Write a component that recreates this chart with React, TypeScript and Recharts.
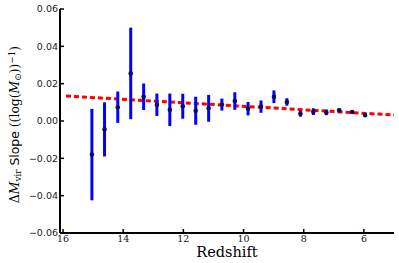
import React from 'react';
import { ComposedChart, Scatter, Line, XAxis, YAxis, ErrorBar, Label } from 'recharts';

const redshift = [15.04, 14.62, 14.18, 13.75, 13.32, 12.88, 12.45, 12.02, 11.59, 11.16, 10.72, 10.29, 9.85, 9.42, 8.99, 8.56, 8.11, 7.68, 7.25, 6.82, 6.39, 5.96];
const slope = [-0.018, -0.0045, 0.0074, 0.0255, 0.013, 0.0087, 0.006, 0.0079, 0.0055, 0.0068, 0.0088, 0.0107, 0.0066, 0.0077, 0.013, 0.0102, 0.0039, 0.005, 0.0046, 0.0057, 0.0048, 0.0032];
const slopeErr = [0.0245, 0.0145, 0.0084, 0.0245, 0.0071, 0.006, 0.0087, 0.0067, 0.0075, 0.0072, 0.0032, 0.0047, 0.0036, 0.0033, 0.0034, 0.002, 0.0016, 0.0018, 0.0015, 0.0011, 0.0008, 0.0012];
const fitRedshift = [15.9, 5.0];
const fitSlope = [0.0134, 0.0032];
const xTicks = [16, 14, 12, 10, 8, 6];
const yTicks = [-0.06, -0.04, -0.02, 0, 0.02, 0.04, 0.06];
const xDomain = [5, 16.1];
const yDomain = [-0.06, 0.06];

const points = redshift.map((z, i) => ({ z, v: slope[i], e: slopeErr[i] }));
const fitData = fitRedshift.map((z, i) => ({ z, v: fitSlope[i] }));

const fmtY = (v: number) => {
  const s = Math.abs(v).toFixed(2);
  return v < -1e-9 ? '\u2212' + s : s;
};

const Dot = (p: any) => <circle cx={p.cx} cy={p.cy} r={2.3} fill="#0c0c5a" />;

const YLabel = () => (
  <text transform="translate(19,124.5) rotate(-90)" textAnchor="middle" fontSize={12.4} fill="#000" fontFamily="DejaVu Serif">
    <tspan>Δ</tspan>
    <tspan fontStyle="italic">M</tspan>
    <tspan fontSize={8.8} dy={2.2}>vir</tspan>
    <tspan dy={-2.2} fontFamily="DejaVu Sans">{' Slope '}</tspan>
    <tspan>((log(</tspan>
    <tspan fontStyle="italic">M</tspan>
    <tspan fontSize={8.8} dy={2.2}>⊙</tspan>
    <tspan dy={-2.2}>))</tspan>
    <tspan fontSize={8.8} dy={-4.5}>−1</tspan>
    <tspan dy={4.5}>)</tspan>
  </text>
);

const XLabel = (p: any) => {
  const vb = p.viewBox || { x: 60, y: 233, width: 334, height: 30 };
  return (
    <text x={vb.x + vb.width / 2} y={vb.y + 23.5} textAnchor="middle" fontSize={14.5} fontFamily="DejaVu Serif" fill="#000">
      Redshift
    </text>
  );
};

export default function App() {
  return (
    <div style={{ position: 'absolute', left: 0, top: 0, background: '#fff' }}>
      <ComposedChart width={399} height={263} margin={{ top: 9, right: 5, bottom: 0, left: 0 }}>
        <XAxis
          xAxisId="b"
          type="number"
          dataKey="z"
          domain={xDomain}
          reversed
          allowDataOverflow
          ticks={xTicks}
          interval={0}
          height={30}
          tickSize={-4}
          tickMargin={6}
          axisLine={{ stroke: '#000', strokeWidth: 2 }}
          tickLine={{ stroke: '#000', strokeWidth: 1.5 }}
          tick={{ fontFamily: 'DejaVu Serif', fontSize: 9.5, fill: '#111' }}
        >
          <Label content={<XLabel />} />
        </XAxis>
        <XAxis
          xAxisId="t"
          orientation="top"
          type="number"
          dataKey="z"
          domain={xDomain}
          reversed
          allowDataOverflow
          ticks={xTicks}
          interval={0}
          height={0}
          tickSize={-4}
          tick={false}
          axisLine={{ stroke: '#000', strokeWidth: 2 }}
          tickLine={{ stroke: '#000', strokeWidth: 1.5 }}
        />
        <YAxis
          yAxisId="l"
          type="number"
          domain={yDomain}
          allowDataOverflow
          ticks={yTicks}
          interval={0}
          width={60}
          tickSize={-4}
          tickMargin={6}
          tickFormatter={fmtY}
          axisLine={{ stroke: '#000', strokeWidth: 2 }}
          tickLine={{ stroke: '#000', strokeWidth: 1.5 }}
          tick={{ fontFamily: 'DejaVu Sans', fontSize: 9.5, fill: '#222' }}
        >
          <Label content={<YLabel />} />
        </YAxis>
        <YAxis
          yAxisId="r"
          orientation="right"
          type="number"
          domain={yDomain}
          allowDataOverflow
          ticks={yTicks}
          interval={0}
          width={0}
          tickSize={-4}
          tick={false}
          axisLine={{ stroke: '#000', strokeWidth: 2 }}
          tickLine={{ stroke: '#000', strokeWidth: 1.5 }}
        />
        <Line
          xAxisId="b"
          yAxisId="l"
          data={fitData}
          dataKey="v"
          type="linear"
          stroke="#ff0000"
          strokeWidth={3}
          strokeDasharray="5 3"
          dot={false}
          activeDot={false}
          isAnimationActive={false}
        />
        <Scatter xAxisId="b" yAxisId="l" data={points} dataKey="v" shape={<Dot />} isAnimationActive={false}>
          <ErrorBar dataKey="e" direction="y" width={0} stroke="#0000ff" strokeWidth={3} isAnimationActive={false} />
        </Scatter>
      </ComposedChart>
    </div>
  );
}
